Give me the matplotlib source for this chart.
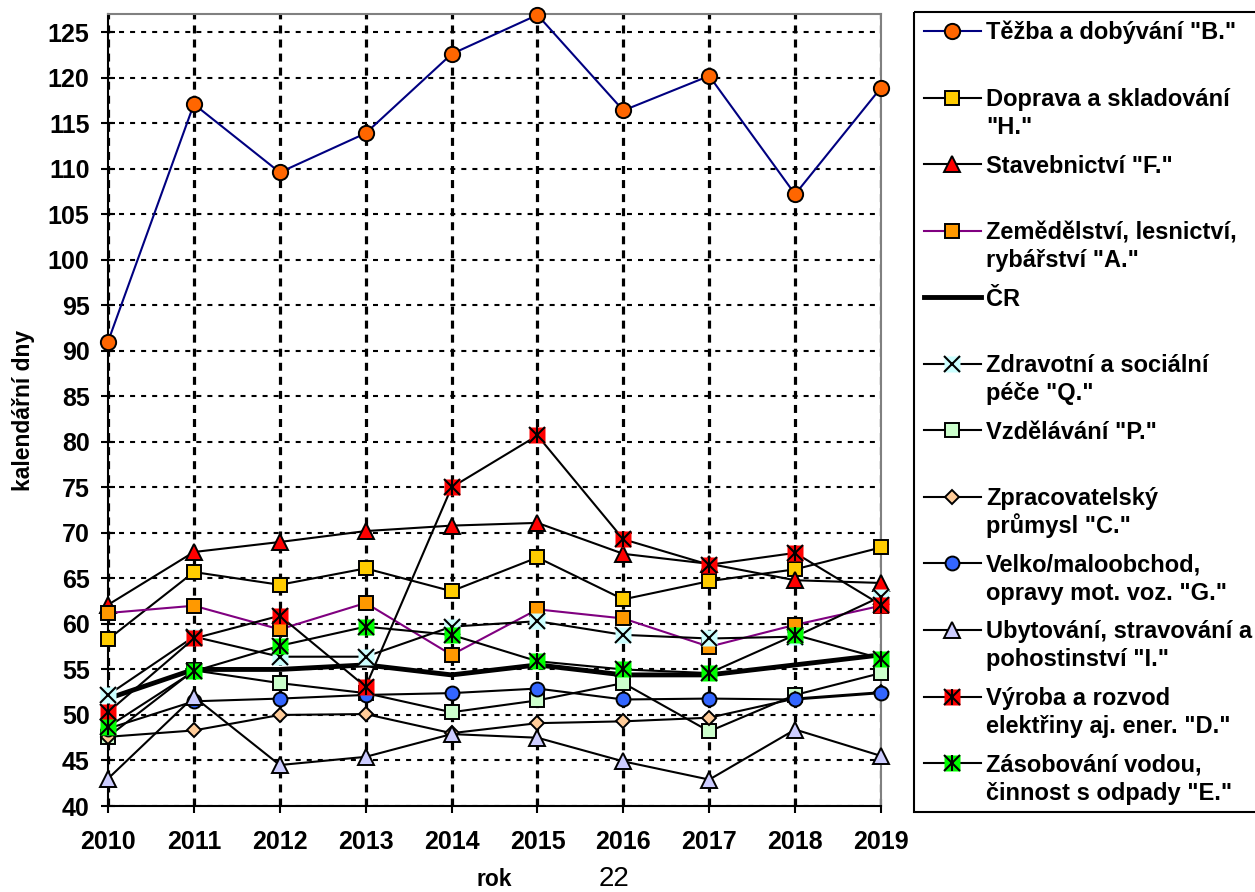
import matplotlib
matplotlib.use("Agg")
import matplotlib.pyplot as plt
from matplotlib.patches import Rectangle

plt.rcParams['font.family'] = ['Liberation Sans', 'DejaVu Sans']
plt.rcParams['font.weight'] = 'bold'
plt.rcParams['axes.labelweight'] = 'bold'

years = [2010, 2011, 2012, 2013, 2014, 2015, 2016, 2017, 2018, 2019]

tezba_b = [91.0, 117.1, 109.6, 113.9, 122.6, 126.9, 116.4, 120.2, 107.2, 118.9]
doprava_h = [58.3, 65.7, 64.3, 66.1, 63.6, 67.3, 62.7, 64.7, 66.0, 68.4]
stavebnictvi_f = [62.1, 67.9, 69.0, 70.2, 70.8, 71.1, 67.7, 66.6, 64.8, 64.5]
zemedelstvi_a = [61.2, 62.0, 59.4, 62.3, 56.6, 61.6, 60.6, 57.5, 59.9, 62.0]
cr = [51.8, 55.0, 55.0, 55.5, 54.4, 55.5, 54.4, 54.4, 55.5, 56.6]
zdravotni_q = [52.2, 58.6, 56.4, 56.4, 59.7, 60.3, 58.8, 58.4, 58.6, 63.0]
vzdelavani_p = [47.6, 54.9, 53.5, 52.4, 50.3, 51.6, 53.5, 48.2, 52.2, 54.6]
zpracovatelsky_c = [47.6, 48.3, 50.0, 50.1, 48.0, 49.1, 49.3, 49.7, 51.8, 52.5]
velko_g = [48.5, 51.5, 51.8, 52.2, 52.4, 52.9, 51.7, 51.8, 51.7, 52.4]
ubytovani_i = [43.0, 52.0, 44.5, 45.4, 47.9, 47.5, 44.9, 42.9, 48.4, 45.5]
vyroba_d = [50.3, 58.4, 60.9, 53.1, 75.0, 80.7, 69.3, 66.5, 67.8, 62.1]
zasobovani_e = [48.7, 54.8, 57.6, 59.7, 58.8, 55.9, 55.0, 54.6, 58.8, 56.2]

labels = [
    'Těžba a dobývání "B."',
    'Doprava a skladování\n"H."',
    'Stavebnictví "F."',
    'Zemědělství, lesnictví,\nrybářství "A."',
    'ČR',
    'Zdravotní a sociální\npéče "Q."',
    'Vzdělávání "P."',
    'Zpracovatelský\nprůmysl "C."',
    'Velko/maloobchod,\nopravy mot. voz. "G."',
    'Ubytování, stravování a\npohostinství "I."',
    'Výroba a rozvod\nelektřiny aj. ener. "D."',
    'Zásobování vodou,\nčinnost s odpady "E."',
]
series = [tezba_b, doprava_h, stavebnictvi_f, zemedelstvi_a, cr, zdravotni_q,
          vzdelavani_p, zpracovatelsky_c, velko_g, ubytovani_i, vyroba_d, zasobovani_e]

# (line colour, line width, marker, face colour, marker size, overlay)
styles = [
    ('#000080', 1.5, 'o', '#FF6600', 11, None),
    ('black', 1.5, 's', '#FFCC00', 10, None),
    ('black', 1.5, '^', '#FF0000', 11, None),
    ('#800080', 1.5, 's', '#FF9900', 10, None),
    ('black', 3.5, None, None, 0, None),
    ('black', 1.5, 's', '#CCFFFF', 12, 'x'),
    ('black', 1.5, 's', '#CCFFCC', 10, None),
    ('black', 1.5, 'D', '#FFCC99', 7.5, None),
    ('black', 1.5, 'o', '#3366FF', 10, None),
    ('black', 1.5, '^', '#CCCCFF', 11, None),
    ('black', 1.5, 's', '#FF0000', 12, '*'),
    ('black', 1.5, 's', '#00FF00', 12, '*'),
]


def draw(ax, x, y, style, z, line_x=None, line_y=None):
    color, lw, marker, fc, ms, overlay = style
    if line_x is None:
        line_x, line_y = x, y
    ax.plot(line_x, line_y, color=color, lw=lw, zorder=z, clip_on=False)
    if marker is None:
        return
    if overlay is None:
        ax.plot(x, y, ls='', marker=marker, ms=ms, mfc=fc, mec='black',
                mew=1.4, zorder=z + 0.1, clip_on=False)
    else:
        ax.plot(x, y, ls='', marker='s', ms=ms, mfc=fc, mec='none',
                zorder=z + 0.1, clip_on=False)
        ax.plot(x, y, ls='', marker='x', ms=ms * 0.95, mec='black',
                mew=1.5, zorder=z + 0.2, clip_on=False)
        if overlay == '*':
            ax.plot(x, y, ls='', marker='|', ms=ms * 0.95, mec='black',
                    mew=1.5, zorder=z + 0.2, clip_on=False)


W, H = 1255, 892
fig = plt.figure(figsize=(W / 100, H / 100), dpi=100)
ax = fig.add_axes([108 / W, 1 - 806 / H, (881 - 108) / W, (806 - 14) / H])

for i, (vals, st) in enumerate(zip(series, styles)):
    draw(ax, years, vals, st, 3 + i)

ax.set_xlim(2010, 2019)
ax.set_ylim(40, 127)
ax.set_xticks(years)
ax.set_yticks(range(40, 126, 5))
ax.tick_params(axis='both', direction='inout', length=10.5, width=1.5,
               labelsize=18, colors='black')
ax.tick_params(axis='y', pad=8)
ax.tick_params(axis='x', pad=12)

ax.set_axisbelow(True)
ax.yaxis.grid(True, color='black', lw=1.5, ls=(0, (2.4, 2.9)))
ax.xaxis.grid(True, color='black', lw=2.3, ls=(0, (2.5, 1.9)))

for side in ('left', 'bottom'):
    ax.spines[side].set_linewidth(1.5)
    ax.spines[side].set_color('black')
for side in ('top', 'right'):
    ax.spines[side].set_linewidth(1.5)
    ax.spines[side].set_color('#808080')

ax.set_xlabel('rok', fontsize=16.5, labelpad=10)
ax.set_ylabel('kalendářní dny', fontsize=16.5, labelpad=9)

# legend drawn in pixel coordinates, Excel style
lax = fig.add_axes([0, 0, 1, 1])
lax.set_xlim(0, W)
lax.set_ylim(H, 0)
lax.axis('off')
lax.add_patch(Rectangle((914, 12), 420, 800, fill=False, lw=1.5,
                        edgecolor='black', clip_on=False))
for i, (lab, st) in enumerate(zip(labels, styles)):
    yc = 31 + 66.55 * i
    draw(lax, [952], [yc], st, 3 + i, line_x=[924, 981], line_y=[yc, yc])
    for j, line in enumerate(lab.split('\n')):
        lax.text(986, yc + 8.5 + 28 * j, line, fontsize=17, va='baseline',
                 ha='left')

lax.text(614, 886, '22', fontsize=20, fontweight='normal',
         ha='center', va='baseline')

fig.savefig('out.png', dpi=100)
